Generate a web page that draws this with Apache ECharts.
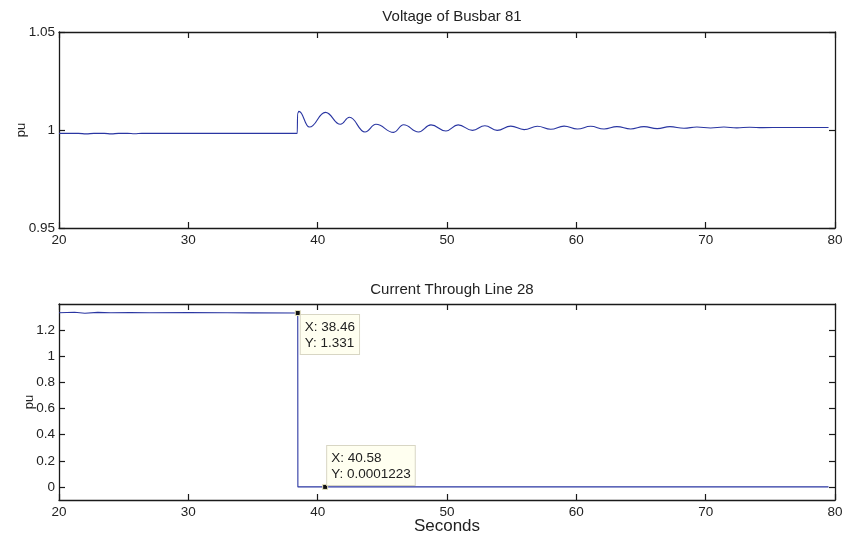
<!DOCTYPE html>
<html>
<head>
<meta charset="utf-8">
<script src="https://cdn.jsdelivr.net/npm/echarts@6/dist/echarts.min.js"></script>
<style>html,body{margin:0;padding:0;background:#fff}#c{width:845px;height:538px}</style>
</head>
<body>
<div id="c"></div>
<script>
// ---- data ----
var xTicks = [20, 30, 40, 50, 60, 70, 80];
var voltTicks = [0.95, 1, 1.05];
var currTicks = [0, 0.2, 0.4, 0.6, 0.8, 1, 1.2];

var voltTime = [20, 21.5, 22.1, 22.7, 23.5, 24.05, 24.6, 25.3, 25.85, 26.4, 30, 35, 38.42,
  38.45, 38.55, 39.36, 40.6, 41.76, 42.46, 43.66, 44.51, 45.87, 46.64, 47.80, 48.76,
  49.92, 50.86, 51.97, 52.93, 53.88, 54.93, 55.96, 56.99, 58.02, 59.05, 60.08, 61.11,
  62.14, 63.14, 64.20, 65.23, 66.25, 67.24, 68.32, 69.32, 70.38, 71.41, 72.41, 73.4,
  74.4, 76, 78, 79.5];
var voltValue = [0.9983, 0.9983, 0.9980, 0.9983, 0.9983, 0.9980, 0.9983, 0.9983, 0.9981, 0.9983, 0.9983, 0.9983, 0.9983,
  1.0085, 1.0095, 1.0015, 1.0090, 1.0029, 1.0065, 0.9990, 1.0029, 0.9988, 1.0027, 0.9990, 1.0026,
  0.9995, 1.0026, 0.9998, 1.0022, 0.9998, 1.0020, 1.0002, 1.0019, 1.0004, 1.0020, 1.0005, 1.0019,
  1.0005, 1.0017, 1.0005, 1.0017, 1.0007, 1.0017, 1.0009, 1.0015, 1.0010, 1.0015, 1.0011, 1.0014,
  1.0012, 1.0013, 1.0013, 1.0013];

var currTime = [20, 21.2, 22.0, 23.0, 24.0, 25.5, 27, 30, 33, 35, 38.46, 38.47, 40.58, 60, 79.5];
var currValue = [1.333, 1.337, 1.329, 1.336, 1.333, 1.335, 1.333, 1.334, 1.333, 1.332, 1.331, 0.0002, 0.0001223, 0.0001, 0.0001];

var tip1 = {x: 38.46, y: 1.331};
var tip2 = {x: 40.58, y: 0.0001223};

// ---- build ----
function pairs(a, b) { return a.map(function (v, i) { return [v, b[i]]; }); }
var FONT = 'Liberation Sans';
var axisCol = '#1a1a1a';
var lineCol = '#2a36a2';
var TICKFS = 13.5;

function xAx(grid, pos, labels, extra) {
  var o = {
    type: 'value', gridIndex: grid, position: pos, min: 20, max: 80, interval: 10,
    axisLine: {show: true, onZero: false, lineStyle: {color: axisCol, width: 1.3}},
    axisTick: {show: true, inside: true, length: 6, customValues: xTicks, lineStyle: {color: axisCol, width: 1.2}},
    axisLabel: {show: labels, customValues: xTicks, color: '#222', fontFamily: FONT, fontSize: TICKFS, margin: 5,
      hideOverlap: false},
    splitLine: {show: false}
  };
  for (var k in (extra || {})) o[k] = extra[k];
  return o;
}
function yAx(grid, pos, labels, min, max, ticks, extra) {
  var o = {
    type: 'value', gridIndex: grid, position: pos, min: min, max: max,
    axisLine: {show: true, onZero: false, lineStyle: {color: axisCol, width: 1.3}},
    axisTick: {show: true, inside: true, length: 6, customValues: ticks, lineStyle: {color: axisCol, width: 1.2}},
    axisLabel: {show: labels, customValues: ticks, color: '#222', fontFamily: FONT, fontSize: TICKFS, margin: 4,
      hideOverlap: false},
    splitLine: {show: false}
  };
  for (var k in (extra || {})) o[k] = extra[k];
  return o;
}

var tipLabel = {
  show: true, color: '#222', fontFamily: FONT, fontSize: 13.5, lineHeight: 16,
  backgroundColor: '#fffff0', borderColor: '#d8d6c4', borderWidth: 1, padding: [4, 4, 3, 4],
  align: 'left', verticalAlign: 'top'
};
function tipPoint(t, pos) {
  var lab = Object.assign({}, tipLabel, {position: pos, formatter: 'X: ' + t.x + '\nY: ' + t.y});
  return {coord: [t.x, t.y], label: lab};
}

var chart = echarts.init(document.getElementById('c'), null, {renderer: 'canvas'});
chart.setOption({
  animation: false,
  backgroundColor: '#ffffff',
  title: [
    {text: 'Voltage of Busbar 81', left: 447, textAlign: 'center', top: 4,
     textStyle: {fontFamily: FONT, fontSize: 15, fontWeight: 'normal', color: '#222'}},
    {text: 'Current Through Line 28', left: 447, textAlign: 'center', top: 277,
     textStyle: {fontFamily: FONT, fontSize: 15, fontWeight: 'normal', color: '#222'}}
  ],
  grid: [
    {left: 59, top: 32, width: 776, height: 196, show: false, outerBoundsMode: 'none', containLabel: false},
    {left: 59, top: 304, width: 776, height: 196, show: false, outerBoundsMode: 'none', containLabel: false}
  ],
  xAxis: [
    xAx(0, 'bottom', true),
    xAx(0, 'top', false),
    xAx(1, 'bottom', true, {name: 'Seconds', nameLocation: 'middle', nameGap: 18, nameMoveOverlap: false,
      nameTextStyle: {fontFamily: FONT, fontSize: 17, color: '#222'}}),
    xAx(1, 'top', false)
  ],
  yAxis: [
    yAx(0, 'left', true, 0.95, 1.05, voltTicks, {name: 'pu', nameLocation: 'middle', nameGap: 31, nameMoveOverlap: false,
      nameTextStyle: {fontFamily: FONT, fontSize: 13, color: '#222'}}),
    yAx(0, 'right', false, 0.95, 1.05, voltTicks),
    yAx(1, 'left', true, -0.1, 1.4, currTicks, {name: 'pu', nameLocation: 'middle', nameGap: 23, nameMoveOverlap: false,
      nameTextStyle: {fontFamily: FONT, fontSize: 13, color: '#222'}}),
    yAx(1, 'right', false, -0.1, 1.4, currTicks)
  ],
  series: [
    {type: 'line', xAxisIndex: 0, yAxisIndex: 0, data: pairs(voltTime, voltValue),
     showSymbol: false, smooth: 0.45, smoothMonotone: 'x',
     lineStyle: {color: lineCol, width: 1.1}},
    {type: 'line', xAxisIndex: 2, yAxisIndex: 2, data: pairs(currTime, currValue),
     showSymbol: false, smooth: false,
     lineStyle: {color: lineCol, width: 1.1},
     markPoint: {
       symbol: 'rect', symbolSize: 5,
       itemStyle: {color: '#111', borderColor: '#e8e4c0', borderWidth: 1},
       data: [tipPoint(tip1, [6, 5]), tipPoint(tip2, [5, -38])]
     }}
  ]
});
</script>
</body>
</html>
